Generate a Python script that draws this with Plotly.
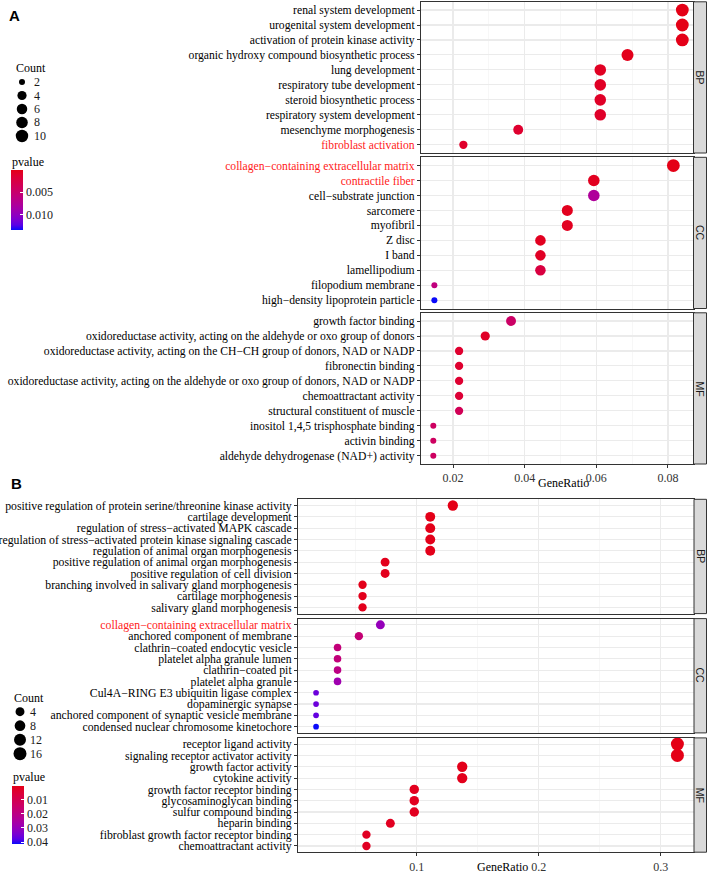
import plotly.graph_objects as go

W, H = 708, 873

# ---------------- Panel A data ----------------
a_bp_terms = ["renal system development", "urogenital system development",
              "activation of protein kinase activity",
              "organic hydroxy compound biosynthetic process", "lung development",
              "respiratory tube development", "steroid biosynthetic process",
              "respiratory system development", "mesenchyme morphogenesis",
              "fibroblast activation"]
a_bp_ratio = [0.0840, 0.0840, 0.0840, 0.0687, 0.0611, 0.0611, 0.0611, 0.0611, 0.0382, 0.0229]
a_bp_count = [11, 11, 11, 9, 8, 8, 8, 8, 5, 3]
a_bp_p = [0.00002, 0.00003, 0.0001, 0.0003, 0.0006, 0.0007, 0.0008, 0.0009, 0.0012, 0.0010]

a_cc_terms = ["collagen\u2212containing extracellular matrix", "contractile fiber",
              "cell\u2212substrate junction", "sarcomere", "myofibril", "Z disc", "I band",
              "lamellipodium", "filopodium membrane", "high\u2212density lipoprotein particle"]
a_cc_ratio = [0.0815, 0.0593, 0.0593, 0.0519, 0.0519, 0.0444, 0.0444, 0.0444, 0.0148, 0.0148]
a_cc_count = [11, 8, 8, 7, 7, 6, 6, 6, 2, 2]
a_cc_p = [0.00001, 0.0005, 0.0078, 0.0004, 0.0005, 0.0005, 0.0007, 0.0022, 0.0060, 0.0135]

a_mf_terms = ["growth factor binding",
              "oxidoreductase activity, acting on the aldehyde or oxo group of donors",
              "oxidoreductase activity, acting on the CH\u2212CH group of donors, NAD or NADP",
              "fibronectin binding",
              "oxidoreductase activity, acting on the aldehyde or oxo group of donors, NAD or NADP",
              "chemoattractant activity", "structural constituent of muscle",
              "inositol 1,4,5 trisphosphate binding", "activin binding",
              "aldehyde dehydrogenase (NAD+) activity"]
a_mf_ratio = [0.0362, 0.0290, 0.0217, 0.0217, 0.0217, 0.0217, 0.0217, 0.0145, 0.0145, 0.0145]
a_mf_count = [5, 4, 3, 3, 3, 3, 3, 2, 2, 2]
a_mf_p = [0.0045, 0.0008, 0.0012, 0.0012, 0.0013, 0.0016, 0.0035, 0.0042, 0.0042, 0.0042]

a_highlight = ["fibroblast activation", "collagen\u2212containing extracellular matrix",
               "contractile fiber"]
a_count_legend = [2, 4, 6, 8, 10]
a_p_ticks = [0.005, 0.010]
a_p_ticklabels = ["0.005", "0.010"]
a_x_ticks = [0.02, 0.04, 0.06, 0.08]

# ---------------- Panel B data ----------------
b_bp_terms = ["positive regulation of protein serine/threonine kinase activity",
              "cartilage development", "regulation of stress\u2212activated MAPK cascade",
              "regulation of stress\u2212activated protein kinase signaling cascade",
              "regulation of animal organ morphogenesis",
              "positive regulation of animal organ morphogenesis",
              "positive regulation of cell division",
              "branching involved in salivary gland morphogenesis",
              "cartilage morphogenesis", "salivary gland morphogenesis"]
b_bp_ratio = [0.1296, 0.1111, 0.1111, 0.1111, 0.1111, 0.0741, 0.0741, 0.0556, 0.0556, 0.0556]
b_bp_count = [7, 6, 6, 6, 6, 4, 4, 3, 3, 3]
b_bp_p = [0.0007, 0.0009, 0.0010, 0.0011, 0.0012, 0.0015, 0.0016, 0.0012, 0.0014, 0.0015]

b_cc_terms = ["collagen\u2212containing extracellular matrix", "anchored component of membrane",
              "clathrin\u2212coated endocytic vesicle", "platelet alpha granule lumen",
              "clathrin\u2212coated pit", "platelet alpha granule",
              "Cul4A\u2212RING E3 ubiquitin ligase complex", "dopaminergic synapse",
              "anchored component of synaptic vesicle membrane",
              "condensed nuclear chromosome kinetochore"]
b_cc_ratio = [0.0702, 0.0526, 0.0351, 0.0351, 0.0351, 0.0351, 0.0175, 0.0175, 0.0175, 0.0175]
b_cc_count = [4, 3, 2, 2, 2, 2, 1, 1, 1, 1]
b_cc_p = [0.030, 0.017, 0.018, 0.018, 0.020, 0.028, 0.036, 0.036, 0.037, 0.0414]

b_mf_terms = ["receptor ligand activity", "signaling receptor activator activity",
              "growth factor activity", "cytokine activity", "growth factor receptor binding",
              "glycosaminoglycan binding", "sulfur compound binding", "heparin binding",
              "fibroblast growth factor receptor binding", "chemoattractant activity"]
b_mf_ratio = [0.3137, 0.3137, 0.1373, 0.1373, 0.0980, 0.0980, 0.0980, 0.0784, 0.0588, 0.0588]
b_mf_count = [16, 16, 7, 7, 5, 5, 5, 4, 3, 3]
b_mf_p = [0.0006, 0.0007, 0.0012, 0.0014, 0.0018, 0.0019, 0.0020, 0.0021, 0.0024, 0.0025]

b_highlight = ["collagen\u2212containing extracellular matrix"]
b_count_legend = [4, 8, 12, 16]
b_p_ticks = [0.01, 0.02, 0.03, 0.04]
b_p_ticklabels = ["0.01", "0.02", "0.03", "0.04"]
b_x_ticks = [0.1, 0.2, 0.3]

facets = ["BP", "CC", "MF"]

# ---------------- style ----------------
SERIF = "Liberation Serif"
SANS = "Liberation Sans"
RED_END = (228, 0, 22)
BLUE_END = (10, 10, 250)
GRID = "#EBEBEB"
BORDER = "#333333"


def _lin(c):
    c = c / 255.0
    return c / 12.92 if c <= 0.04045 else ((c + 0.055) / 1.055) ** 2.4


def _gam(c):
    c = max(0.0, min(1.0, c))
    v = 12.92 * c if c <= 0.0031308 else 1.055 * c ** (1 / 2.4) - 0.055
    return int(round(max(0, min(1, v)) * 255))


def rgb2lab(rgb):
    r, g, b = (_lin(v) for v in rgb)
    X = (0.4124 * r + 0.3576 * g + 0.1805 * b) / 0.95047
    Y = 0.2126 * r + 0.7152 * g + 0.0722 * b
    Z = (0.0193 * r + 0.1192 * g + 0.9505 * b) / 1.08883
    d = 6 / 29
    f = lambda t: t ** (1 / 3) if t > d ** 3 else t / (3 * d * d) + 4 / 29
    fx, fy, fz = f(X), f(Y), f(Z)
    return 116 * fy - 16, 500 * (fx - fy), 200 * (fy - fz)


def lab2rgb(L, a, b):
    d = 6 / 29
    fy = (L + 16) / 116
    fx = fy + a / 500
    fz = fy - b / 200
    finv = lambda t: t ** 3 if t > d else 3 * d * d * (t - 4 / 29)
    X, Y, Z = 0.95047 * finv(fx), finv(fy), 1.08883 * finv(fz)
    r = 3.2406 * X - 1.5372 * Y - 0.4986 * Z
    g = -0.9689 * X + 1.8758 * Y + 0.0415 * Z
    bb = 0.0557 * X - 0.2040 * Y + 1.0570 * Z
    return _gam(r), _gam(g), _gam(bb)


def lab_scale(c_low_val, c_high_val, n=12):
    l0, l1 = rgb2lab(c_low_val), rgb2lab(c_high_val)
    out = []
    for i in range(n + 1):
        t = i / n
        lab = [l0[k] + (l1[k] - l0[k]) * t for k in range(3)]
        out.append([t, "rgb(%d,%d,%d)" % lab2rgb(*lab)])
    return out


# reversed colorbar (low p on top): colour mapped on -p, blue at -pmax, red at -pmin
CSCALE = lab_scale(BLUE_END, RED_END)


def px(x):
    return x / W


def py(y):
    return 1 - y / H


def size_fn(cmin, cmax, dmin, dmax):
    return lambda c: dmin + (dmax - dmin) * ((c - cmin) / (cmax - cmin)) ** 0.5


def label(t, hl):
    if t in hl:
        return '<span style="color:#FF1A1A">%s</span>' % t
    return t


def ann(text, x, y, size=12, family=SERIF, color="#000000", xanchor="left",
        yanchor="middle", angle=0):
    return dict(text=text, xref="paper", yref="paper", x=x, y=y, showarrow=False,
                xanchor=xanchor, yanchor=yanchor, textangle=angle, borderpad=0,
                font=dict(family=family, size=size, color=color))


fig = go.Figure()

charts = [
    dict(name="A",
         data=[(a_bp_terms, a_bp_ratio, a_bp_count, a_bp_p),
               (a_cc_terms, a_cc_ratio, a_cc_count, a_cc_p),
               (a_mf_terms, a_mf_ratio, a_mf_count, a_mf_p)],
         hl=a_highlight, xdom=(421, 693.5), ytop=1.8, fh=151.2, gap=4.3,
         xrange=(0.01107, 0.08712), dtick=0.02, minor=0.01, fmt=".2f", xticks=a_x_ticks,
         fontsize=11.65, dsize=(6.0, 12.8),
         cb=dict(x=10.5, top=170, len=60), p_ticks=a_p_ticks, p_labels=a_p_ticklabels,
         count_leg=a_count_legend, count_title=(15, 68), count_x=22, count_lx=33,
         count_y0=82, count_dy=13.5, p_title=(10.5, 162), xtitle=(563, 483),
         tag=(8, 15.5), tickfont=12),
    dict(name="B",
         data=[(b_bp_terms, b_bp_ratio, b_bp_count, b_bp_p),
               (b_cc_terms, b_cc_ratio, b_cc_count, b_cc_p),
               (b_mf_terms, b_mf_ratio, b_mf_count, b_mf_p)],
         hl=b_highlight, xdom=(298, 694), ytop=499.3, fh=114.3, gap=5.0,
         xrange=(0.0027, 0.3273), dtick=0.1, minor=0.05, fmt=".1f", xticks=b_x_ticks,
         fontsize=11.75, dsize=(5.7, 13.0),
         cb=dict(x=12.3, top=786, len=58), p_ticks=b_p_ticks, p_labels=b_p_ticklabels,
         count_leg=b_count_legend, count_title=(12.5, 698), count_x=20, count_lx=29,
         count_y0=711.7, count_dy=14, p_title=(12.3, 777), xtitle=(502, 866.5),
         tag=(10, 483.5), tickfont=12),
]

layout = dict(width=W, height=H, margin=dict(l=0, r=0, t=0, b=0, autoexpand=False),
              paper_bgcolor="white", plot_bgcolor="rgba(0,0,0,0)", showlegend=False,
              font=dict(family=SERIF, color="#000000"))
shapes, annotations = [], []
axis_i = 0

for ch in charts:
    allc = [c for d in ch["data"] for c in d[2]]
    allp = [p for d in ch["data"] for p in d[3]]
    sz = size_fn(min(allc), max(allc), *ch["dsize"])
    pmin, pmax = min(allp), max(allp)
    for fi, (terms, ratio, count, pv) in enumerate(ch["data"]):
        axis_i += 1
        xa = "x" if axis_i == 1 else "x%d" % axis_i
        ya = "y" if axis_i == 1 else "y%d" % axis_i
        top = ch["ytop"] + fi * (ch["fh"] + ch["gap"])
        bot = top + ch["fh"]
        ydom = [py(bot), py(top)]
        xdom = [px(ch["xdom"][0]), px(ch["xdom"][1])]
        bottom = fi == 2
        marker = dict(size=[sz(c) for c in count], color=[-p for p in pv],
                      colorscale=CSCALE, cmin=-pmax, cmax=-pmin, line=dict(width=0),
                      opacity=1)
        if fi == 0:
            cb = ch["cb"]
            marker["showscale"] = True
            marker["colorbar"] = dict(
                x=px(cb["x"]), xanchor="left", y=py(cb["top"]), yanchor="top",
                len=cb["len"], lenmode="pixels", thickness=12, thicknessmode="pixels",
                xpad=0, ypad=0, outlinewidth=0, borderwidth=0,
                tickvals=[-t for t in ch["p_ticks"]], ticktext=ch["p_labels"],
                ticks="inside", ticklen=3, tickcolor="white", tickwidth=1,
                tickfont=dict(family=SERIF, size=12, color="#1A1A1A"))
        fig.add_trace(go.Scatter(x=ratio, y=list(range(len(terms))), mode="markers",
                                 marker=marker, xaxis=xa, yaxis=ya, hoverinfo="skip",
                                 text=terms))
        xk = "xaxis" if axis_i == 1 else "xaxis%d" % axis_i
        yk = "yaxis" if axis_i == 1 else "yaxis%d" % axis_i
        layout[xk] = dict(domain=xdom, range=list(ch["xrange"]), anchor=ya,
                          showgrid=True, gridcolor=GRID, gridwidth=1.1,
                          tickvals=ch["xticks"], tickformat=ch["fmt"],
                          minor=dict(dtick=ch["minor"], tick0=0, showgrid=True,
                                     gridcolor="#F2F2F2", gridwidth=0.6, ticks=""),
                          showline=True, mirror=True, linecolor=BORDER, linewidth=1,
                          zeroline=False, ticks="outside" if bottom else "",
                          ticklen=3, tickcolor=BORDER, showticklabels=bottom,
                          tickfont=dict(family=SERIF, size=ch["tickfont"], color="#333333"))
        layout[yk] = dict(domain=ydom, range=[len(terms) - 1 + 0.55, -0.55], anchor=xa,
                          tickvals=list(range(len(terms))),
                          ticktext=[label(t, ch["hl"]) for t in terms],
                          showgrid=True, gridcolor=GRID, gridwidth=1.1,
                          showline=True, mirror=True, linecolor=BORDER, linewidth=1,
                          zeroline=False, ticks="outside", ticklen=3, tickcolor=BORDER,
                          tickfont=dict(family=SERIF, size=ch["fontsize"], color="#000000"))
        shapes.append(dict(type="rect", xref="paper", yref="paper",
                           x0=px(ch["xdom"][1]), x1=px(706.5), y0=ydom[0], y1=ydom[1],
                           fillcolor="#D9D9D9", line=dict(color=BORDER, width=1),
                           layer="above"))
        annotations.append(ann(facets[fi], px((ch["xdom"][1] + 706.5) / 2),
                               (ydom[0] + ydom[1]) / 2, size=10.5, family=SANS,
                               color="#1A1A1A", xanchor="center", angle=90))
    annotations.append(ann("GeneRatio", px(ch["xtitle"][0]), py(ch["xtitle"][1]),
                           xanchor="center"))
    annotations.append(ann("<b>%s</b>" % ch["name"], px(ch["tag"][0]), py(ch["tag"][1]),
                           size=15, family=SANS))
    annotations.append(ann("Count", px(ch["count_title"][0]), py(ch["count_title"][1])))
    annotations.append(ann("pvalue", px(ch["p_title"][0]), py(ch["p_title"][1])))
    ly = [ch["count_y0"] + i * ch["count_dy"] for i in range(len(ch["count_leg"]))]
    fig.add_trace(go.Scatter(x=[ch["count_x"]] * len(ly), y=ly, mode="markers",
                             marker=dict(size=[sz(c) for c in ch["count_leg"]],
                                         color="#000000", opacity=1, line=dict(width=0)),
                             xaxis="x7", yaxis="y7", hoverinfo="skip"))
    for c, yy in zip(ch["count_leg"], ly):
        annotations.append(ann(str(c), px(ch["count_lx"]), py(yy), color="#1A1A1A"))

layout["xaxis7"] = dict(domain=[0, 1], range=[0, W], visible=False, fixedrange=True,
                        showgrid=False, zeroline=False)
layout["yaxis7"] = dict(domain=[0, 1], range=[H, 0], visible=False, fixedrange=True,
                        showgrid=False, zeroline=False, anchor="x7")
layout["shapes"] = shapes
layout["annotations"] = annotations
fig.update_layout(**layout)
fig.write_html("out.html", config={"displayModeBar": False, "staticPlot": True},
               post_script="document.body.style.margin='0';document.body.style.padding='0';")
